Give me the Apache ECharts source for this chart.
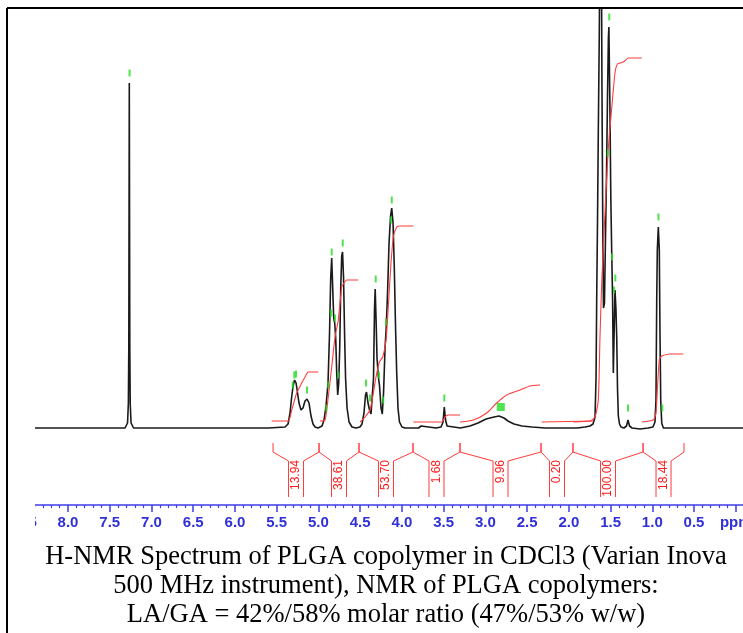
<!DOCTYPE html>
<html><head><meta charset="utf-8">
<script src="https://cdn.jsdelivr.net/npm/echarts@6/dist/echarts.min.js"></script>
<style>html,body{margin:0;padding:0;background:#fff}#c{width:743px;height:633px}</style>
</head><body><div id="c"></div>
<script>
// ---- spectrum (ppm, intensity above baseline) ----
const segAromatic = [[8.40,0],[7.60,0],[7.48,0],[7.473,2],[7.465,0],[7.317,0],[7.287,5],[7.277,25],[7.272,80],[7.266,345],[7.260,80],[7.255,25],[7.245,5],[7.215,0],[7.05,0],[7.042,2],[7.035,0],[5.60,0]];
const segMethine = [[5.580,0],[5.400,1],[5.364,4],[5.340,15],[5.322,30],[5.304,42],[5.286,48],[5.268,45],[5.250,35],[5.233,25],[5.209,18],[5.185,20],[5.161,27],[5.137,29],[5.113,25],[5.089,12],[5.065,4],[5.041,1],[5.005,0],[4.957,2],[4.933,8],[4.909,22],[4.885,45],[4.867,95],[4.853,150],[4.841,170],[4.829,140],[4.817,110],[4.805,105],[4.793,90],[4.781,55],[4.769,33],[4.757,45],[4.745,80],[4.733,140],[4.721,172],[4.711,176],[4.699,150],[4.687,95],[4.675,50],[4.657,20],[4.633,6],[4.598,1]];
const segMethylene = [[4.550,0],[4.502,1],[4.478,4],[4.454,15],[4.436,33],[4.424,36],[4.406,25],[4.388,18],[4.370,14],[4.354,12],[4.340,50],[4.328,120],[4.320,139],[4.310,110],[4.298,70],[4.283,52],[4.268,42],[4.250,20],[4.235,14],[4.220,35],[4.202,80],[4.188,100],[4.172,135],[4.154,185],[4.136,212],[4.122,220],[4.106,205],[4.091,160],[4.076,100],[4.062,55],[4.047,20],[4.029,6],[3.999,1],[3.963,0]];
const segMiddle = [[3.80,0],[3.77,2],[3.755,0],[3.59,0],[3.583,1.5],[3.575,0],[3.531,1],[3.507,6],[3.492,21],[3.477,8],[3.459,2],[3.436,0],[3.30,0],[3.184,2],[3.088,5],[2.992,9],[2.896,11],[2.837,12],[2.777,10],[2.729,7],[2.657,4],[2.561,2],[2.441,1],[2.285,0],[1.90,0],[1.890,2],[1.880,0]];
const segMethyl = [[1.806,1],[1.746,2],[1.710,4],[1.686,11],[1.674,50],[1.666,130],[1.656,210],[1.647,295],[1.635,395],[1.624,520],[1.617,560],[1.608,440],[1.603,340],[1.594,210],[1.585,120],[1.573,125],[1.561,190],[1.549,250],[1.537,330],[1.526,390],[1.520,401],[1.509,330],[1.497,230],[1.486,175],[1.476,130],[1.467,55],[1.456,100],[1.447,138],[1.436,120],[1.426,90],[1.417,40],[1.407,12],[1.393,4],[1.375,1],[1.339,0],[1.309,2],[1.291,8],[1.273,2],[1.243,0],[1.147,-1],[1.051,0],[0.992,1],[0.968,6],[0.956,28],[0.947,128],[0.940,178],[0.928,201],[0.916,178],[0.908,95],[0.899,28],[0.887,5],[0.868,0],[0.428,0],[-0.09,0]];

// ---- integral curves (ppm, level) ----
const int1 = [[5.560,7],[5.361,7],[5.320,18],[5.260,35],[5.200,45],[5.161,51],[5.121,56],[5.001,56]];
const int2 = [[4.981,7],[4.921,8],[4.882,31],[4.841,61],[4.801,91],[4.762,108],[4.721,141],[4.694,145],[4.661,148],[4.522,148]];
const int3 = [[4.502,6],[4.442,11],[4.382,18],[4.342,35],[4.310,51],[4.270,66],[4.230,71],[4.190,88],[4.163,121],[4.134,161],[4.103,191],[4.062,201],[4.023,202],[3.863,202]];
const int4 = [[3.863,6],[3.523,6],[3.483,11],[3.444,13],[3.304,13]];
const int5 = [[3.304,6],[3.144,8],[2.984,15],[2.864,25],[2.744,33],[2.585,38],[2.465,42],[2.345,43]];
const int6 = [[2.325,6],[1.707,7]];
const int7 = [[1.946,6],[1.746,7],[1.686,11],[1.647,28],[1.627,90],[1.606,145],[1.567,215],[1.527,280],[1.486,320],[1.447,355],[1.417,364],[1.347,366],[1.287,370],[1.127,370]];
const int8 = [[1.127,6],[0.988,8],[0.956,15],[0.935,45],[0.916,68],[0.887,72],[0.788,74],[0.629,74]];

// ---- integral regions and values ----
const regionStart = [5.544,4.993,4.514,3.867,3.304,2.333,1.950,1.111];
const regionEnd   = [4.993,4.514,3.867,3.304,2.333,1.950,1.111,0.620];
const integralLabels = ['13.94','38.61','53.70','1.68','9.96','0.20','100.00','18.44'];

// ---- peak pick markers ----
const peakMarks = [[7.263,355],[5.308,43],[5.289,53],[5.269,54],[5.137,38],[4.906,20],[4.882,43],[4.849,115],[4.841,176],[4.801,110],[4.762,53],[4.709,185],[4.430,45],[4.382,30],[4.314,149],[4.274,53],[4.223,28],[4.190,106],[4.130,208],[4.122,228],[3.492,30],[1.534,275],[1.516,411],[1.483,171],[1.459,138],[1.443,150],[1.291,20],[0.926,211],[0.880,20]];
const peakBlock = [[2.815,21]];

const captionLines = ['H-NMR Spectrum of PLGA copolymer in CDCl3 (Varian Inova','500 MHz instrument), NMR of PLGA copolymers:','LA/GA = 42%/58% molar ratio (47%/53% w/w)'];

const spectrum = [].concat(segAromatic, segMethine, segMethylene, segMiddle, segMethyl);
const integrals = [int1,int2,int3,int4,int5,int6,int7,int8];
const RED = '#ff3b3b', BLUE = '#3c3ce8', GREEN = '#22dd22';

const chart = echarts.init(document.getElementById('c'));
const series = [];
series.push({type:'line', data: spectrum, showSymbol:false, symbol:'none', clip:true,
  lineStyle:{color:'#1a1a1a', width:1.6}, z:3, animation:false});
integrals.forEach(d => series.push({type:'line', data:d, showSymbol:false, symbol:'none', clip:true,
  lineStyle:{color:RED, width:1.1}, z:4, animation:false, smooth:0.2}));
series.push({type:'scatter', data: peakMarks, symbol:'rect', symbolSize:[2,7],
  itemStyle:{color:GREEN}, z:5, animation:false});
series.push({type:'scatter', data: peakBlock, symbol:'rect', symbolSize:[8,8],
  itemStyle:{color:GREEN}, z:5, animation:false});
series.push({type:'custom', data: regionStart.map((s,i)=>[s, regionEnd[i]]), z:4, animation:false,
  renderItem: function(params, api){
    const s = api.value(0), e = api.value(1), m = (s+e)/2;
    const a0 = api.coord([s,-15]), a1 = api.coord([s,-24]);
    const b0 = api.coord([e,-15]), b1 = api.coord([e,-24]);
    const c = api.coord([m,-33]), cb = api.coord([m,-69]);
    const g = 7.5;
    const ls = {stroke:RED, lineWidth:1, fill:null};
    return {type:'group', children:[
      {type:'polyline', shape:{points:[a0,a1,[c[0]-g,c[1]],[c[0]-g,cb[1]]]}, style:ls},
      {type:'polyline', shape:{points:[b0,b1,[c[0]+g,c[1]],[c[0]+g,cb[1]]]}, style:ls},
      {type:'text', x:c[0], y:c[1]-1, rotation:Math.PI/2,
        style:{text:integralLabels[params.dataIndex], fill:'#ff1a1a', font:'12px "Liberation Sans", Arial',
          align:'right', verticalAlign:'middle'}}
    ]};
  }});

chart.setOption({
  animation:false,
  backgroundColor:'#fff',
  grid:{left:26.3, top:8, width:751.2, height:497, containLabel:false, outerBoundsMode:'none'},
  xAxis:{type:'value', inverse:true, min:-0.5, max:8.5, interval:0.5, position:'bottom',
    axisLine:{show:true, onZero:false, lineStyle:{color:BLUE, width:1.5}},
    axisTick:{show:true, length:7, lineStyle:{color:BLUE, width:1.5}},
    minorTick:{show:true, splitNumber:5, length:3, lineStyle:{color:BLUE, width:1.2}},
    splitLine:{show:false},
    axisLabel:{color:'#3030d8', fontWeight:'bold', fontSize:15, fontFamily:'"Liberation Sans", Arial', margin:10,
      hideOverlap:false, showMinLabel:true, showMaxLabel:true,
      formatter: v => Math.abs(v) < 1e-9 ? 'ppm' : v.toFixed(1)}},
  yAxis:{type:'value', min:-77, max:420, show:false},
  series: series,
  graphic:[
    {type:'rect', shape:{x:9, y:9, width:26, height:530}, style:{fill:'#fff'}, z:100},
    {type:'line', shape:{x1:7, y1:8, x2:743, y2:8}, style:{stroke:'#000', lineWidth:2}, z:101},
    {type:'line', shape:{x1:7, y1:8, x2:7, y2:633}, style:{stroke:'#000', lineWidth:2}, z:101},
    ...captionLines.map((t,i)=>({type:'text', x:386, y:557+i*29, z:101,
      style:{text:t, fill:'#000', font:'26.5px "Liberation Serif", "Times New Roman", serif', align:'center', verticalAlign:'middle'}}))
  ]
});
</script></body></html>
